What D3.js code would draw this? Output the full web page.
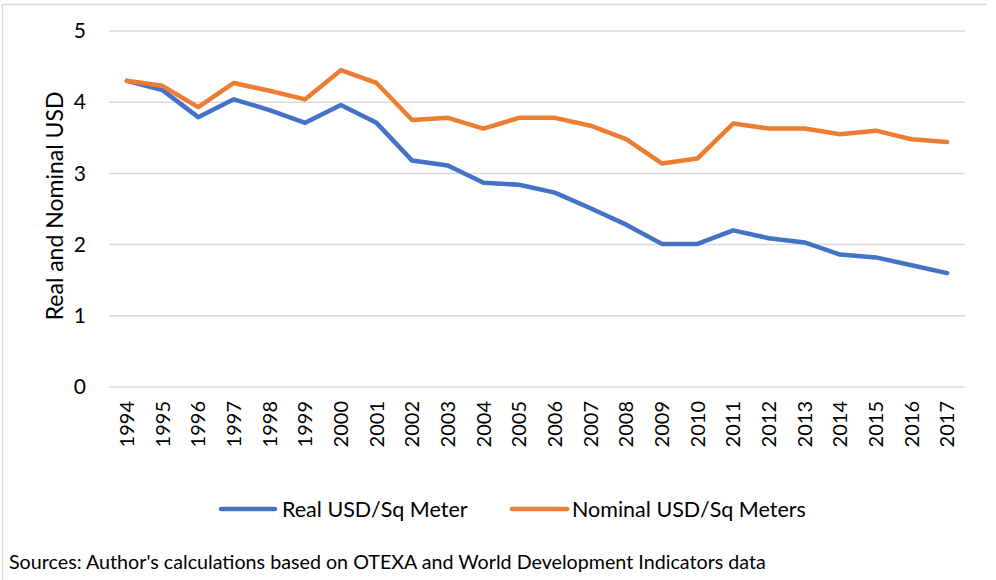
<!DOCTYPE html>
<html>
<head>
<meta charset="utf-8">
<script src="https://cdn.jsdelivr.net/npm/d3@7"></script>
<style>
  html, body { margin: 0; padding: 0; background: #fff; }
  svg { display: block; font-family: Lato, "Open Sans", sans-serif; }
</style>
</head>
<body>
<svg id="chart" width="996" height="580"></svg>
<script>
const years = ["1994","1995","1996","1997","1998","1999","2000","2001","2002","2003","2004","2005","2006","2007","2008","2009","2010","2011","2012","2013","2014","2015","2016","2017"];
const realUSD = [4.30,4.17,3.79,4.04,3.89,3.71,3.96,3.71,3.18,3.11,2.87,2.84,2.73,2.51,2.28,2.01,2.01,2.20,2.09,2.03,1.86,1.82,1.71,1.60];
const nominalUSD = [4.30,4.23,3.93,4.27,4.16,4.04,4.45,4.27,3.75,3.78,3.63,3.78,3.78,3.67,3.48,3.14,3.21,3.70,3.63,3.63,3.55,3.60,3.48,3.44];
const yTicks = [0,1,2,3,4,5];
const seriesNames = ["Real USD/Sq Meter", "Nominal USD/Sq Meters"];
const yTitle = "Real and Nominal USD";
const source = "Sources: Author's calculations based on OTEXA and World Development Indicators data";

const svg = d3.select("#chart");
const colors = ["#4472C4", "#ED7D31"];
const plotL = 109, plotR = 965, plotT = 31, plotB = 387;

// frame (partially visible)
svg.append("line").attr("x1", 2.5).attr("x2", 2.5).attr("y1", 4).attr("y2", 580)
  .attr("stroke", "#d9d9d9").attr("stroke-width", 1.5);
svg.append("line").attr("x1", 2).attr("x2", 987).attr("y1", 4.5).attr("y2", 4.5)
  .attr("stroke", "#d9d9d9").attr("stroke-width", 1.5);

const x = d3.scaleBand().domain(years).range([plotL, plotR]);
const y = d3.scaleLinear().domain([0, 5]).range([plotB, plotT]);

// gridlines
svg.append("g").selectAll("line").data(yTicks).join("line")
  .attr("x1", plotL).attr("x2", plotR)
  .attr("y1", d => y(d)).attr("y2", d => y(d))
  .attr("stroke", "#d9d9d9").attr("stroke-width", 1.5);

// y axis
const yAxis = svg.append("g").attr("transform", `translate(${plotL},0)`)
  .call(d3.axisLeft(y).tickValues(yTicks).tickFormat(d3.format("d")).tickSize(0).tickPadding(23));
yAxis.select(".domain").remove();
yAxis.selectAll("text").attr("font-size", 21).attr("fill", "#000").attr("font-family", "Lato, sans-serif");

// x axis
const xAxis = svg.append("g").attr("transform", `translate(0,${plotB})`)
  .call(d3.axisBottom(x).tickSize(0));
xAxis.select(".domain").remove();
xAxis.selectAll("text")
  .attr("font-size", 20).attr("fill", "#000").attr("font-family", "Lato, sans-serif")
  .attr("transform", "rotate(-90)")
  .attr("text-anchor", "end")
  .attr("x", -14).attr("y", 0).attr("dy", "0.36em");

// y title
svg.append("text")
  .attr("transform", `translate(63,206) rotate(-90)`)
  .attr("text-anchor", "middle")
  .attr("font-size", 23).attr("fill", "#000")
  .text(yTitle);

// lines
const line = d3.line().x((d, i) => x(years[i]) + x.bandwidth() / 2).y(d => y(d));
[realUSD, nominalUSD].forEach((s, k) => {
  svg.append("path").datum(s)
    .attr("d", line)
    .attr("fill", "none")
    .attr("stroke", colors[k])
    .attr("stroke-width", 4.5)
    .attr("stroke-linejoin", "round")
    .attr("stroke-linecap", "round");
});

// legend
const legendY = 509;
const legendItems = [{x0: 221, x1: 275, tx: 282}, {x0: 512, x1: 567, tx: 572}];
legendItems.forEach((it, k) => {
  svg.append("line").attr("x1", it.x0).attr("x2", it.x1).attr("y1", legendY).attr("y2", legendY)
    .attr("stroke", colors[k]).attr("stroke-width", 4.5).attr("stroke-linecap", "round");
  svg.append("text").attr("x", it.tx).attr("y", legendY).attr("dy", "0.35em")
    .attr("font-size", 21.5).attr("fill", "#000").text(seriesNames[k]);
});

// source
svg.append("text").attr("x", 9).attr("y", 569)
  .attr("font-size", 19.7).attr("fill", "#000").text(source);
</script>
</body>
</html>
